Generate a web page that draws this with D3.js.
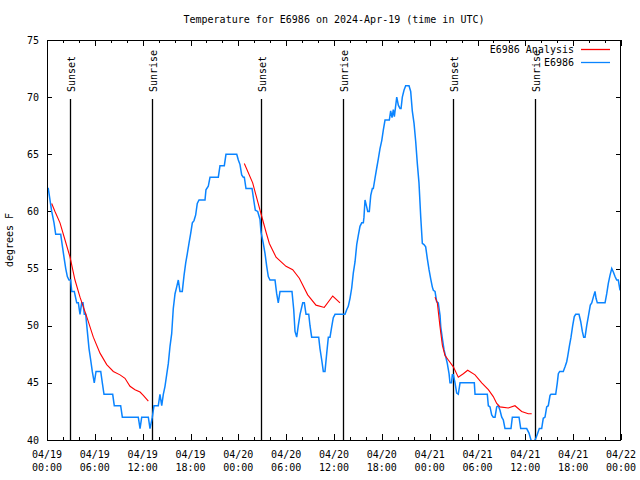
<!DOCTYPE html>
<html><head><meta charset="utf-8">
<script src="https://cdn.jsdelivr.net/npm/d3@7"></script>
<style>
body{margin:0;background:#fff}
svg{display:block}
text{font-family:"DejaVu Sans Mono",monospace;font-size:10px;fill:#000}
</style>
</head><body>
<svg id="c" width="640" height="480"></svg>
<script>
const title = "Temperature for E6986 on 2024-Apr-19 (time in UTC)";
const yLabel = "degrees F";
const xTickHours = [0,6,12,18,24,30,36,42,48,54,60,66,72];
const xTickDates = ["04/19","04/19","04/19","04/19","04/20","04/20","04/20","04/20","04/21","04/21","04/21","04/21","04/22"];
const xTickTimes = ["00:00","06:00","12:00","18:00","00:00","06:00","12:00","18:00","00:00","06:00","12:00","18:00","00:00"];
const yTicks = [40,45,50,55,60,65,70,75];
const sunNames = ["Sunset","Sunrise","Sunset","Sunrise","Sunset","Sunrise"];
const sunHours = [2.92,13.21,26.88,37.17,50.97,61.25];
const seriesNames = ["E6986 Analysis","E6986"];
const seriesColors = ["#ff0000","#0a84ff"];

// observed (hours since 04/19 00:00 UTC, degrees F)
const obsHours = [0.06,0.16,0.59,0.88,1.09,1.72,1.92,2.13,2.35,2.55,2.76,2.97,3.10,3.42,3.73,3.93,4.14,4.35,4.52,4.68,4.85,5.06,5.27,5.48,5.68,5.93,6.15,6.74,6.94,7.15,8.24,8.44,9.24,9.45,11.45,11.67,11.88,12.71,12.92,13.21,13.42,13.96,14.17,14.39,14.59,14.80,15.01,15.22,15.43,15.64,15.84,16.06,16.27,16.47,16.68,16.97,17.19,17.40,17.60,17.81,18.03,18.23,18.44,18.65,18.85,19.07,19.82,19.94,20.23,20.45,21.49,21.70,22.24,22.45,23.80,24.00,24.21,24.42,24.62,24.75,24.96,25.72,25.93,26.13,26.43,26.72,26.84,27.13,27.35,27.56,27.76,27.97,28.60,28.81,29.01,29.23,30.73,30.95,31.11,31.32,31.52,31.74,32.08,32.28,32.49,32.83,32.99,33.20,34.08,34.24,34.46,34.66,34.87,35.09,35.29,35.50,35.71,35.91,36.13,37.38,37.59,37.79,38.01,38.22,38.42,38.64,38.85,39.05,39.26,39.48,39.68,39.76,39.89,40.10,40.23,40.43,40.61,40.81,40.93,41.14,41.36,41.56,41.77,41.99,42.18,42.40,42.94,43.11,43.28,43.44,43.57,43.87,44.07,44.28,44.41,44.57,44.78,44.99,45.41,45.62,45.82,46.04,46.25,46.45,46.66,46.88,47.08,47.29,47.50,47.70,47.92,48.13,48.33,48.46,48.67,48.88,49.08,49.30,49.39,49.59,49.80,50.01,50.21,50.43,50.55,50.74,50.84,50.97,51.18,51.39,51.59,51.81,53.60,53.69,55.23,55.36,55.57,55.78,55.98,56.20,56.41,56.61,56.82,57.04,57.24,57.45,58.20,58.37,59.21,59.42,60.17,60.46,60.71,60.96,61.21,61.34,61.55,61.75,62.05,62.25,62.47,62.68,62.88,63.10,63.22,63.81,64.01,64.14,64.31,64.76,64.98,65.19,65.31,65.52,65.73,65.94,66.14,66.32,66.73,66.95,67.15,67.32,67.49,67.70,67.90,68.15,68.33,68.53,68.74,68.87,69.03,70.00,70.21,70.41,70.62,70.84,71.04,71.25,71.46,71.66,71.88];
const obsTemp = [62,62,60,59,58,58,57,56,55,54.3,54,54,53,53,52,52,51,52,52,51,51,49.5,48,47,46,45,46,46,45,44,44,43,43,42,42,41,42,42,41,42,43,43,44,43,44,44.7,45.7,46.7,48.2,49.3,51.5,52.8,53.4,54,53,53,54.4,55.5,56.3,57.2,58.1,59,59.2,59.7,60.7,61,61,61.9,62.2,63,63,64,64,65,65,64.5,64.1,63.2,63,63,62,62,61,60.1,60,59.3,58.2,57.2,56.3,55.2,54.3,54,54,52.8,52,53,53,51.4,49.5,49,50,51,52,52,51,51,50,49,49,48,47,46,46,47.6,49,49,49.9,50.7,51,51,51.4,51.7,52.4,53.3,54.6,55.6,57.1,57.9,58.7,59,59,59.5,61,60.4,60,60,61.4,62,62,62.9,63.8,64.6,65.5,66.2,67.1,68,68,68.8,68.2,68.9,68.3,70,69.3,69,69,70,70.6,71,71,70.5,68.8,67.7,66.1,64.2,62.5,59.5,57.2,57.1,56.9,55.9,54.9,54.1,53.4,53.1,53,52.1,52,50.9,49.9,48.9,47.9,47.3,46.7,45.8,45,45,45.7,45.7,45,44.1,44,45,45,44,44,43,42.9,42.2,42,42,42.9,43,42.6,42,41.75,41,41,42,42,41,41,40.6,40,39.8,40,40.2,40.6,41,41,41.9,42,42.9,43,43.9,44,44,45,45.8,46,46,46.4,46.85,47.3,48.2,49,50,50.8,51,51,50.35,49.5,49,49,50,50.8,51.8,52,52.5,53,52.4,52,52,52.8,53.7,54.4,55,54.7,54.3,54,54,53.1];

// analysis (null = gap between runs)
const anaHours = [0.59,1.00,1.63,2.26,2.89,3.51,4.14,4.98,5.81,6.65,7.49,8.32,9.16,9.78,10.41,11.04,11.67,12.08,12.71,null,24.75,25.80,26.43,27.06,27.47,27.89,28.73,29.98,30.82,31.65,32.70,33.74,34.78,35.84,36.75,null,48.67,48.96,49.30,49.59,49.92,50.34,50.97,51.59,52.22,52.77,53.69,54.53,55.36,55.98,56.41,56.82,57.86,58.70,59.54,60.37,60.80];
const anaTemp = [60.7,60,59,57.5,56,54,52.5,50.8,49,47.6,46.6,46,45.7,45.4,44.7,44.4,44.2,43.9,43.4,null,64.2,62.5,60.85,59.25,58.2,57.2,56,55.2,54.9,54.15,52.7,51.8,51.6,52.6,52,null,52.5,52,49.9,48.3,47.4,47,46.4,45.5,45.8,46.1,45.7,45,44.4,43.8,43.2,42.9,42.8,43,42.5,42.3,42.3];

const L=47, R=621, T=40, B=440;
const svg = d3.select("#c");
const x = d3.scaleLinear().domain([0,72]).range([L,R]);
const y = d3.scaleLinear().domain([40,75]).range([B,T]);

const minorHours = d3.range(0,73,2).filter(h => h%6!==0);

function ticks(axis, vals, size, tr){
  const g = svg.append("g").attr("transform", tr)
    .call(axis.tickValues(vals).tickSize(size).tickFormat(""));
  g.select(".domain").remove();
  g.selectAll("line").attr("stroke","#000").attr("shape-rendering","crispEdges");
  g.selectAll("text").remove();
}
ticks(d3.axisBottom(x), xTickHours, -6, `translate(0,${B})`);
ticks(d3.axisBottom(x), minorHours, -3, `translate(0,${B})`);
ticks(d3.axisTop(x), xTickHours, -6, `translate(0,${T})`);
ticks(d3.axisTop(x), minorHours, -3, `translate(0,${T})`);
ticks(d3.axisLeft(y), yTicks, -5, `translate(${L},0)`);
ticks(d3.axisRight(y), yTicks, -5, `translate(${R},0)`);

// y labels
svg.append("g").selectAll("text").data(yTicks).join("text")
  .attr("x", L-8).attr("y", d=>y(d)).attr("dy","0.35em")
  .attr("text-anchor","end").text(d=>d);

// x labels
const xl = svg.append("g").selectAll("text").data(xTickHours).join("text")
  .attr("text-anchor","middle");
xl.append("tspan").attr("x", d=>x(d)).attr("y",458).text((d,i)=>xTickDates[i]);
xl.append("tspan").attr("x", d=>x(d)).attr("y",471).text((d,i)=>xTickTimes[i]);

// title and axis label
svg.append("text").attr("x",(L+R)/2).attr("y",23).attr("text-anchor","middle").text(title);
svg.append("text").attr("transform","translate(13,240) rotate(-90)").attr("text-anchor","middle").text(yLabel);

// sun lines
const sg = svg.append("g");
sg.selectAll("line").data(sunHours).join("line")
  .attr("x1", d=>Math.round(x(d))+0.5).attr("x2", d=>Math.round(x(d))+0.5)
  .attr("y1", 99).attr("y2", B).attr("stroke","#000").attr("stroke-width",1.3);
sg.selectAll("text").data(sunHours).join("text")
  .attr("transform", d=>`translate(${x(d)+4.5},92) rotate(-90)`)
  .attr("text-anchor","start").text((d,i)=>sunNames[i]);

// clip
svg.append("clipPath").attr("id","pc").append("rect")
  .attr("x",L).attr("y",T).attr("width",R-L).attr("height",B-T);

const obs = obsHours.map((h,i)=>({h, t:obsTemp[i]}));
const ana = anaHours.map((h,i)=>({h, t:anaTemp[i]}));
const line = d3.line().defined(d=>d.h!=null && d.t!=null).x(d=>x(d.h)).y(d=>y(d.t));

const dg = svg.append("g").attr("clip-path","url(#pc)");
dg.append("path").datum(obs).attr("d",line).attr("fill","none")
  .attr("stroke",seriesColors[1]).attr("stroke-width",1.5).attr("stroke-linejoin","miter");
dg.append("path").datum(ana).attr("d",line).attr("fill","none")
  .attr("stroke",seriesColors[0]).attr("stroke-width",1.1);

// border
svg.append("rect").attr("x",L+0.5).attr("y",T+0.5).attr("width",R-L-1).attr("height",B-T)
  .attr("fill","none").attr("stroke","#000").attr("shape-rendering","crispEdges");

// legend
const lg = svg.append("g");
seriesNames.forEach((n,i)=>{
  const cy = 49.5 + i*13;
  lg.append("text").attr("x",574).attr("y",cy).attr("dy","0.35em").attr("text-anchor","end").text(n);
  lg.append("line").attr("x1",581).attr("x2",610).attr("y1",cy).attr("y2",cy)
    .attr("stroke",seriesColors[i]).attr("stroke-width",1.3);
});
</script>
</body></html>
